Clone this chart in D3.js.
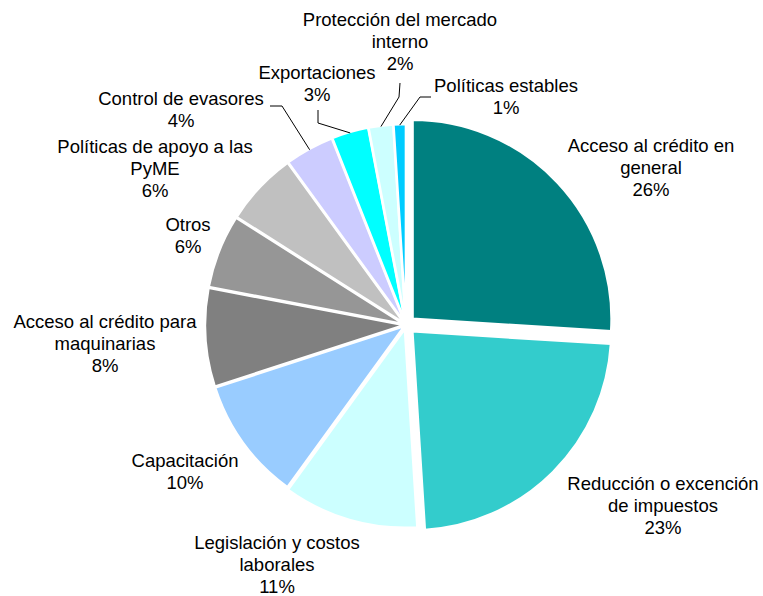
<!DOCTYPE html>
<html>
<head>
<meta charset="utf-8">
<script src="https://cdn.jsdelivr.net/npm/d3@7"></script>
<style>
  body { margin: 0; background: #fff; }
  text { font-family: "Liberation Sans", Arial, sans-serif; font-size: 18.5px; fill: #000; }
</style>
</head>
<body>
<div id="chart"></div>
<script>
// data
var categories = ["Acceso al crédito en general", "Reducción o excención de impuestos",
  "Legislación y costos laborales", "Capacitación", "Acceso al crédito para maquinarias",
  "Otros", "Políticas de apoyo a las PyME", "Control de evasores", "Exportaciones",
  "Protección del mercado interno", "Políticas estables"];
var values = [26, 23, 11, 10, 8, 6, 6, 4, 3, 2, 1];
var labelLines = [
  ["Acceso al crédito en", "general"],
  ["Reducción o excención", "de impuestos"],
  ["Legislación y costos", "laborales"],
  ["Capacitación"],
  ["Acceso al crédito para", "maquinarias"],
  ["Otros"],
  ["Políticas de apoyo a las", "PyME"],
  ["Control de evasores"],
  ["Exportaciones"],
  ["Protección del mercado", "interno"],
  ["Políticas estables"]
];

var colors = ["#008080", "#33CCCC", "#CCFFFF", "#99CCFF", "#808080", "#969696",
  "#C0C0C0", "#CCCCFF", "#00FFFF", "#CCFFFF", "#00CCFF"];
var explode = [9, 9, 4, 2, 2, 2, 2, 2, 2, 2, 2];
// label anchors (center x, first baseline y)
var labelPos = [[651, 152], [663, 490], [277, 549], [185, 467], [105, 328], [188, 231],
  [155, 153], [181, 105], [317, 79], [400, 26], [506, 92]];
// leader line start points (near label) for the small slices
var leaders = {7: [[270, 106], [282, 106]], 8: [[318, 110], [318, 123]],
  9: [[400, 83], [399, 97]], 10: [[431, 97], [420, 97]]};

var width = 763, height = 596;
var cx = 406, cy = 325, r = 199;

var svg = d3.select("#chart").append("svg")
  .attr("width", width)
  .attr("height", height);

var pie = d3.pie().sort(null).value(function(d) { return d; });
var arcs = pie(values);
var arc = d3.arc().innerRadius(0).outerRadius(r);
var edge = d3.arc().innerRadius(r).outerRadius(r);

var g = svg.append("g").attr("transform", "translate(" + cx + "," + cy + ")");

g.selectAll("path.slice")
  .data(arcs)
  .enter()
  .append("path")
  .attr("class", "slice")
  .attr("d", arc)
  .attr("fill", function(d, i) { return colors[i]; })
  .attr("stroke", "#fff")
  .attr("stroke-width", 2.5)
  .attr("stroke-linejoin", "round")
  .attr("transform", function(d, i) {
    var a = (d.startAngle + d.endAngle) / 2;
    return "translate(" + (Math.sin(a) * explode[i]) + "," + (-Math.cos(a) * explode[i]) + ")";
  });

// leader lines
Object.keys(leaders).forEach(function(k) {
  var i = +k, d = arcs[i];
  var a = (d.startAngle + d.endAngle) / 2;
  var p = edge.centroid(d);
  var end = [cx + p[0] + Math.sin(a) * (explode[i] - 1), cy + p[1] - Math.cos(a) * (explode[i] - 1)];
  var pts = leaders[k].concat([end]);
  svg.append("path")
    .attr("d", d3.line()(pts))
    .attr("fill", "none")
    .attr("stroke", "#000")
    .attr("stroke-width", 1);
});

// labels
var lh = 22;
labelLines.forEach(function(lines, i) {
  var t = svg.append("text")
    .attr("text-anchor", "middle")
    .attr("x", labelPos[i][0])
    .attr("y", labelPos[i][1]);
  lines.concat([values[i] + "%"]).forEach(function(s, j) {
    t.append("tspan")
      .attr("x", labelPos[i][0])
      .attr("dy", j === 0 ? 0 : lh)
      .text(s);
  });
});
</script>
</body>
</html>
